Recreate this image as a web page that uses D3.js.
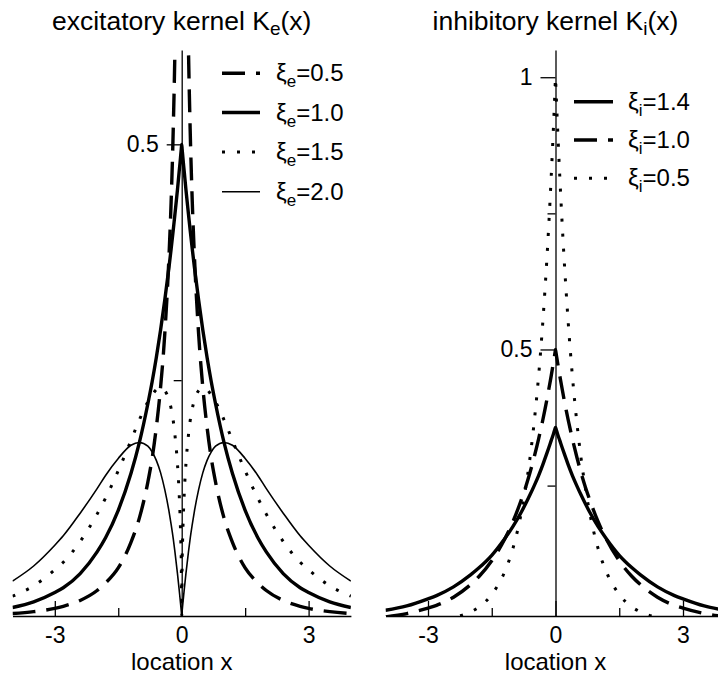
<!DOCTYPE html>
<html><head><meta charset="utf-8">
<script src="https://cdn.jsdelivr.net/npm/d3@7"></script>
<style>
body{margin:0;background:#fff}
svg{display:block}
text{font-family:"Liberation Sans",Arial,Helvetica,sans-serif;fill:#000}
</style>
</head><body>
<svg id="c" width="718" height="678"></svg>
<script>
// ---- data ----
const xs = [-4, -3.5, -3, -2.8, -2.4, -2, -1.8, -1.5, -1.2, -1, -0.8, -0.7, -0.6, -0.5, -0.4, -0.3, -0.25, -0.2, -0.16, -0.1, -0.06, -0.04, -0.02, -0.01,
  0, 0.01, 0.02, 0.04, 0.06, 0.1, 0.16, 0.2, 0.25, 0.3, 0.4, 0.5, 0.6, 0.7, 0.8, 1, 1.2, 1.5, 1.8, 2, 2.4, 2.8, 3, 3.5, 4];

// excitatory kernels
const keXi05 = [0.0026, 0.0046, 0.0081, 0.0103, 0.0165, 0.027, 0.035, 0.051, 0.078, 0.104, 0.142, 0.167, 0.200, 0.242, 0.299, 0.382, 0.439, 0.516, 0.601, 0.807, 1.085, 1.355, 1.955, 2.793,
  null, 2.793, 1.955, 1.355, 1.085, 0.807, 0.601, 0.516, 0.439, 0.382, 0.299, 0.242, 0.200, 0.167, 0.142, 0.104, 0.078, 0.051, 0.035, 0.027, 0.0165, 0.0103, 0.0081, 0.0046, 0.0026];
const keXi10 = [0.009, 0.015, 0.025, 0.030, 0.045, 0.068, 0.083, 0.112, 0.151, 0.184, 0.225, 0.248, 0.274, 0.303, 0.335, 0.370, 0.389, 0.409, 0.426, 0.452, 0.471, 0.480, 0.490, 0.495,
  0.5, 0.495, 0.490, 0.480, 0.471, 0.452, 0.426, 0.409, 0.389, 0.370, 0.335, 0.303, 0.274, 0.248, 0.225, 0.184, 0.151, 0.112, 0.083, 0.068, 0.045, 0.030, 0.025, 0.015, 0.009];
const keXi15 = [0.021, 0.032, 0.049, 0.057, 0.079, 0.108, 0.125, 0.154, 0.186, 0.208, 0.227, 0.234, 0.240, 0.242, 0.239, 0.229, 0.220, 0.207, 0.192, 0.161, 0.130, 0.108, 0.078, 0.056,
  0, 0.056, 0.078, 0.108, 0.130, 0.161, 0.192, 0.207, 0.220, 0.229, 0.239, 0.242, 0.240, 0.234, 0.227, 0.208, 0.186, 0.154, 0.125, 0.108, 0.079, 0.057, 0.049, 0.032, 0.021];
const keXi20 = [0.037, 0.053, 0.075, 0.085, 0.109, 0.135, 0.149, 0.167, 0.181, 0.184, 0.180, 0.174, 0.165, 0.152, 0.134, 0.111, 0.097, 0.082, 0.068, 0.045, 0.028, 0.019, 0.010, 0.005,
  0, 0.005, 0.010, 0.019, 0.028, 0.045, 0.068, 0.082, 0.097, 0.111, 0.134, 0.152, 0.165, 0.174, 0.180, 0.184, 0.181, 0.167, 0.149, 0.135, 0.109, 0.085, 0.075, 0.053, 0.037];

// inhibitory kernels
const kiXi14 = [0.021, 0.029, 0.042, 0.048, 0.064, 0.086, 0.099, 0.122, 0.152, 0.175, 0.202, 0.217, 0.233, 0.250, 0.268, 0.288, 0.299, 0.310, 0.319, 0.333, 0.342, 0.347, 0.352, 0.355,
  0.357, 0.355, 0.352, 0.347, 0.342, 0.333, 0.319, 0.310, 0.299, 0.288, 0.268, 0.250, 0.233, 0.217, 0.202, 0.175, 0.152, 0.122, 0.099, 0.086, 0.064, 0.048, 0.042, 0.029, 0.021];
const kiXi10 = [0.009, 0.015, 0.025, 0.030, 0.045, 0.068, 0.083, 0.112, 0.151, 0.184, 0.225, 0.248, 0.274, 0.303, 0.335, 0.370, 0.389, 0.409, 0.426, 0.452, 0.471, 0.480, 0.490, 0.495,
  0.5, 0.495, 0.490, 0.480, 0.471, 0.452, 0.426, 0.409, 0.389, 0.370, 0.335, 0.303, 0.274, 0.248, 0.225, 0.184, 0.151, 0.112, 0.083, 0.068, 0.045, 0.030, 0.025, 0.015, 0.009];
const kiXi05 = [0.0003, 0.0009, 0.0025, 0.004, 0.008, 0.018, 0.027, 0.050, 0.091, 0.135, 0.202, 0.247, 0.301, 0.368, 0.449, 0.549, 0.607, 0.670, 0.726, 0.819, 0.887, 0.923, 0.961, 0.980,
  1, 0.980, 0.961, 0.923, 0.887, 0.819, 0.726, 0.670, 0.607, 0.549, 0.449, 0.368, 0.301, 0.247, 0.202, 0.135, 0.091, 0.050, 0.027, 0.018, 0.008, 0.004, 0.0025, 0.0009, 0.0003];

const leLabels = ["0.5", "1.0", "1.5", "2.0"];
const liLabels = ["1.4", "1.0", "0.5"];
const xMajorTicks = [-3, 0, 3];
const xMinorTicks = [-1.5, 1.5];
const leYMajor = [0.5], leYMinor = [0.25];
const liYMajor = [0.5, 1], liYMinor = [0.25, 0.75];

// ---- drawing ----
const svg = d3.select("#c");
const FONT = '"Liberation Sans",Arial,Helvetica,sans-serif';
const styles = {
  dashed: {w: 3.4, dash: "23,11"},
  thick: {w: 3.4, dash: null},
  dotted: {w: 3, dash: "3,12"},
  thin: {w: 1.6, dash: null}
};

function panel(cfg) {
  const x = d3.scaleLinear().domain([-4, 4]).range(cfg.xr);
  const y = d3.scaleLinear().domain(cfg.yd).range([616, 50]);
  const g = svg.append("g");
  const clipId = cfg.id + "clip";
  svg.append("clipPath").attr("id", clipId).append("rect")
    .attr("x", cfg.xr[0]).attr("y", 50).attr("width", cfg.xr[1] - cfg.xr[0]).attr("height", 566);
  const line = d3.line().defined(d => d[1] != null)
    .x(d => x(d[0])).y(d => y(d[1])).curve(d3.curveMonotoneX);
  cfg.series.forEach(s => {
    const st = styles[s.style];
    g.append("path").attr("clip-path", `url(#${clipId})`)
      .attr("d", line(xs.map((v, i) => [v, s.values[i]])))
      .attr("fill", "none").attr("stroke", "#000")
      .attr("stroke-width", st.w).attr("stroke-dasharray", st.dash);
  });

  // x axis
  const xa = g.append("g").attr("transform", "translate(0,616)")
    .call(d3.axisBottom(x).tickValues(xMajorTicks).tickFormat(d => String(d))
      .tickSizeInner(-15).tickSizeOuter(0).tickPadding(11));
  xa.attr("font-size", 23).attr("font-family", FONT);
  xa.selectAll("line,path").attr("stroke-width", 1.3);
  const xm = g.append("g").attr("transform", "translate(0,616)")
    .call(d3.axisBottom(x).tickValues(xMinorTicks).tickFormat("")
      .tickSizeInner(-8).tickSizeOuter(0));
  xm.select(".domain").remove();
  xm.selectAll("line").attr("stroke-width", 1.3);

  // y axis
  const ya = g.append("g").attr("transform", `translate(${x(0)},0)`)
    .call(d3.axisLeft(y).tickValues(cfg.yMajor).tickFormat(d => String(d))
      .tickSizeInner(15).tickSizeOuter(0).tickPadding(8));
  ya.attr("font-size", 23).attr("font-family", FONT);
  ya.selectAll("line,path").attr("stroke-width", 1.3);
  const ym = g.append("g").attr("transform", `translate(${x(0)},0)`)
    .call(d3.axisLeft(y).tickValues(cfg.yMinor).tickFormat("")
      .tickSizeInner(8).tickSizeOuter(0));
  ym.select(".domain").remove();
  ym.selectAll("line").attr("stroke-width", 1.3);

  // axis title
  g.append("text").attr("x", x(0)).attr("y", 670).attr("text-anchor", "middle")
    .attr("font-size", 24).text("location x");

  // panel title
  const t = g.append("text").attr("x", x(0)).attr("y", 30).attr("text-anchor", "middle")
    .attr("font-size", 26.5);
  t.append("tspan").text(cfg.title);
  t.append("tspan").attr("dy", 5).attr("font-size", 19).text(cfg.sub);
  t.append("tspan").attr("dy", -5).text("(x)");

  // legend
  cfg.series.forEach((s, i) => {
    const ly = cfg.legY[i];
    const st = styles[s.style];
    g.append("line").attr("x1", cfg.legX[0]).attr("x2", cfg.legX[1])
      .attr("y1", ly).attr("y2", ly).attr("stroke", "#000")
      .attr("stroke-width", st.w).attr("stroke-dasharray", st.dash);
    const tx = g.append("text").attr("x", cfg.legX[2]).attr("y", ly + 8).attr("font-size", 24);
    tx.append("tspan").text("ξ");
    tx.append("tspan").attr("dy", 6).attr("font-size", 17).text(cfg.sub);
    tx.append("tspan").attr("dy", -6).text("=" + s.label);
  });
}

panel({
  id: "le", xr: [12.5, 350.9], yd: [0, 0.6],
  yMajor: leYMajor, yMinor: leYMinor,
  title: "excitatory kernel K", sub: "e",
  legX: [222, 260, 276], legY: [73.3, 112.5, 152, 191.7],
  series: [
    {values: keXi05, style: "dashed", label: leLabels[0]},
    {values: keXi10, style: "thick", label: leLabels[1]},
    {values: keXi15, style: "dotted", label: leLabels[2]},
    {values: keXi20, style: "thin", label: leLabels[3]}
  ]
});
panel({
  id: "li", xr: [385.5, 725.5], yd: [0.0105, 1.05],
  yMajor: liYMajor, yMinor: liYMinor,
  title: "inhibitory kernel K", sub: "i",
  legX: [574, 613, 628], legY: [101.7, 140, 178.3],
  series: [
    {values: kiXi14, style: "thick", label: liLabels[0]},
    {values: kiXi10, style: "dashed", label: liLabels[1]},
    {values: kiXi05, style: "dotted", label: liLabels[2]}
  ]
});
</script>
</body></html>
